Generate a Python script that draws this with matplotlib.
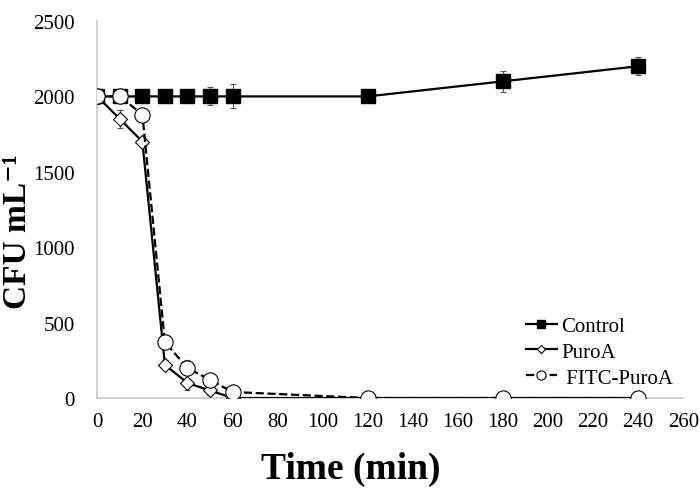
import numpy as np
import matplotlib.pyplot as plt

plt.rcParams['font.family'] = ['Liberation Serif', 'DejaVu Serif']

time = [0, 10, 20, 30, 40, 50, 60, 120, 180, 240]

control = [2000, 2000, 2000, 2000, 2000, 2000, 2000, 2000, 2100, 2200]
control_err = [50, 40, 30, 40, 30, 60, 80, 40, 70, 60]

puroa = [2000, 1850, 1700, 220, 100, 50, 0, 0, 0, 0]
puroa_err = [50, 60, 20, 30, 50, 30, 0, 0, 0, 0]

fitc = [2000, 2000, 1880, 370, 200, 120, 40, 0, 0, 0]
fitc_err = [40, 40, 40, 30, 50, 40, 0, 0, 0, 0]

labels = ['Control', 'PuroA', ' FITC-PuroA']

fig = plt.figure(figsize=(7, 4.89), dpi=100)
ax = fig.add_axes([0.139, 0.184, 0.837, 0.771])

err_kw = dict(ecolor='#555555', elinewidth=0.8, capsize=2.5, capthick=0.8)

c1 = ax.errorbar(time, control, yerr=control_err, color='black', lw=1.6,
                 marker='s', ms=10, mfc='black', mec='black', zorder=3, **err_kw)
c2 = ax.errorbar(time, puroa, yerr=puroa_err, color='black', lw=1.6,
                 marker='D', ms=7, mfc='white', mec='black', mew=0.8, zorder=4, **err_kw)
c3 = ax.errorbar(time, fitc, yerr=fitc_err, color='black', lw=1.6, ls='--',
                 marker='o', ms=11, mfc='white', mec='black', mew=0.8, zorder=5, **err_kw)

ax.set_xlim(0, 260)
ax.set_ylim(0, 2500)
ax.set_xticks(np.arange(0, 261, 20))
ax.set_yticks(np.arange(0, 2501, 500))
ax.tick_params(labelsize=15, length=0)
ax.tick_params(axis='x', pad=10)
ax.tick_params(axis='y', pad=16)

for s in ['top', 'right']:
    ax.spines[s].set_visible(False)
for s in ['left', 'bottom']:
    ax.spines[s].set_color('#c8c8c8')
    ax.spines[s].set_linewidth(1.2)

ax.set_xlabel('Time (min)', fontsize=27, fontweight='bold')
ax.xaxis.set_label_coords(0.433, -0.14)
ax.set_ylabel('CFU mL⁻¹', fontsize=24, fontweight='bold')
ax.yaxis.set_label_coords(-0.11, 0.443)

leg = ax.legend([c1[0], c2[0], c3[0]], labels, loc='lower right', bbox_to_anchor=(1.015, -0.022),
                frameon=False, fontsize=15, handlelength=1.5, handletextpad=0.2,
                labelspacing=0.3, markerscale=0.6)

fig.savefig('out.png', dpi=100)
